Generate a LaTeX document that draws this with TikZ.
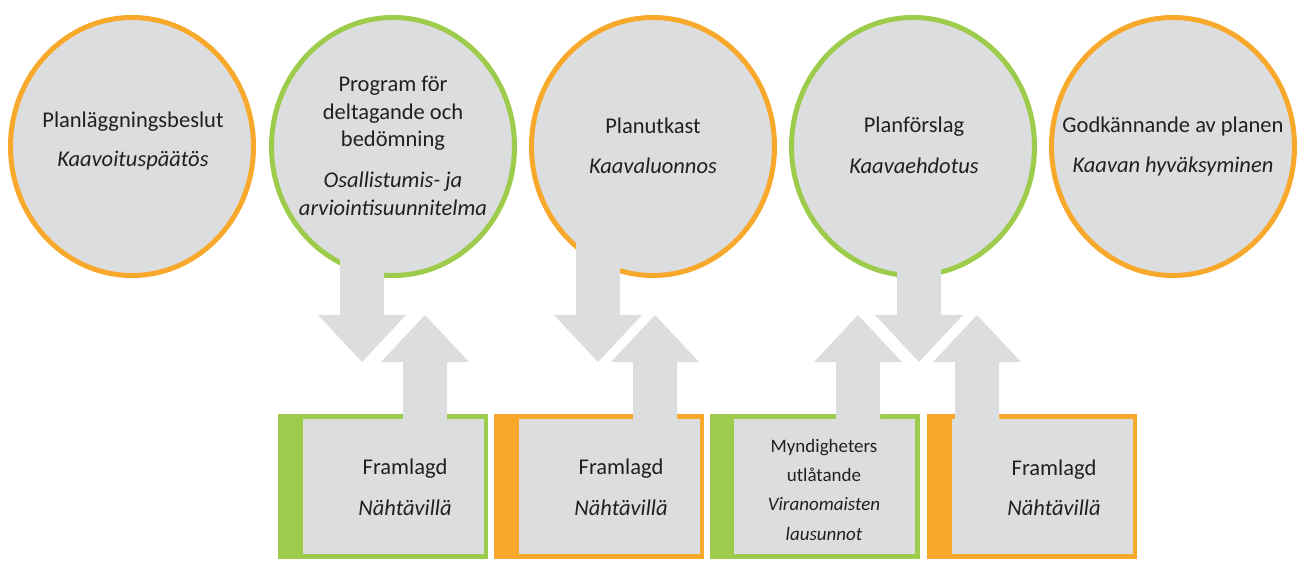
\documentclass[tikz,border=0pt]{standalone}
\usepackage{fontspec}
\setmainfont{Carlito}
\usetikzlibrary{shapes.geometric}
\definecolor{orng}{RGB}{248,168,43}
\definecolor{grn}{RGB}{157,203,76}
\definecolor{fillg}{RGB}{220,221,223}
\definecolor{txt}{RGB}{35,31,32}
\begin{document}
\begin{tikzpicture}[x=1pt,y=-1pt,
  blob/.style={ellipse, draw=#1, line width=5pt, fill=fillg, minimum width=243pt, minimum height=258pt, inner sep=0pt},
  lbl/.style={anchor=base, text=txt, font=\fontsize{22.5}{27}\selectfont, inner sep=0pt},
  ilbl/.style={anchor=base, text=txt, font=\fontsize{22.5}{27}\selectfont\itshape, inner sep=0pt},
  slbl/.style={anchor=base, text=txt, font=\fontsize{19}{23}\selectfont, inner sep=0pt},
  islbl/.style={anchor=base, text=txt, font=\fontsize{19}{23}\selectfont\itshape, inner sep=0pt},
  frameout/.style={rectangle, fill=#1, minimum width=210pt, minimum height=145pt, anchor=north west, inner sep=0pt},
  framein/.style={rectangle, fill=fillg, minimum width=181pt, minimum height=135pt, anchor=north west, inner sep=0pt},
  pics/downarr/.style={code={\fill[fillg] (-22,-140) -- (22,-140) -- (22,-47) -- (44,-47) -- (0,0) -- (-44,-47) -- (-22,-47) -- cycle;}},
  pics/uparr/.style={code={\fill[fillg] (0,0) -- (44,47) -- (22,47) -- (22,110) -- (-22,110) -- (-22,47) -- (-44,47) -- cycle;}}
]
\useasboundingbox (0,0) rectangle (1304,577);
% circles
\node[blob=orng] (c1) at (132,146.5) {};
\node[blob=grn]  (c2) at (393,146.5) {};
\node[blob=orng] (c3) at (653,146.5) {};
\node[blob=grn]  (c4) at (913,146.5) {};
\node[blob=orng] (c5) at (1173,146.5) {};
% boxes
\node[frameout=grn]  (o1) at (278,414) {};
\node[framein]       (i1) at (303,419) {};
\node[frameout=orng] (o2) at (494,414) {};
\node[framein]       (i2) at (519,419) {};
\node[frameout=grn]  (o3) at (710,414) {};
\node[framein]       (i3) at (734,419) {};
\node[frameout=orng] (o4) at (927,414) {};
\node[framein]       (i4) at (952,419) {};
% arrows
\pic (d1) at (362,362) {downarr};
\pic (d2) at (598,362) {downarr};
\pic (d3) at (919,362) {downarr};
\pic (u1) at (425,315) {uparr};
\pic (u2) at (655,315) {uparr};
\pic (u3) at (858,315) {uparr};
\pic (u4) at (977,315) {uparr};
% circle texts
\node[lbl]  (t11) at (133,128) {Planläggningsbeslut};
\node[ilbl] (t12) at (133,167) {Kaavoituspäätös};
\node[lbl]  (t21) at (393,92) {Program för};
\node[lbl]  (t22) at (393,119.5) {deltagande och};
\node[lbl]  (t23) at (393,147) {bedömning};
\node[ilbl] (t24) at (393,188) {Osallistumis- ja};
\node[ilbl] (t25) at (393,215.5) {arviointisuunnitelma};
\node[lbl]  (t31) at (653,134) {Planutkast};
\node[ilbl] (t32) at (653,174) {Kaavaluonnos};
\node[lbl]  (t41) at (914,133) {Planförslag};
\node[ilbl] (t42) at (914,174) {Kaavaehdotus};
\node[lbl]  (t51) at (1173,133) {Godkännande av planen};
\node[ilbl] (t52) at (1173,173) {Kaavan hyväksyminen};
% box texts
\node[lbl]  (b11) at (405,474) {Framlagd};
\node[ilbl] (b12) at (405,515) {Nähtävillä};
\node[lbl]  (b21) at (621,474) {Framlagd};
\node[ilbl] (b22) at (621,515) {Nähtävillä};
\node[slbl]  (b31) at (824,452) {Myndigheters};
\node[slbl]  (b32) at (824,481) {utlåtande};
\node[islbl] (b33) at (824,510) {Viranomaisten};
\node[islbl] (b34) at (824,540) {lausunnot};
\node[lbl]  (b41) at (1054,475) {Framlagd};
\node[ilbl] (b42) at (1054,515) {Nähtävillä};
\end{tikzpicture}
\end{document}
